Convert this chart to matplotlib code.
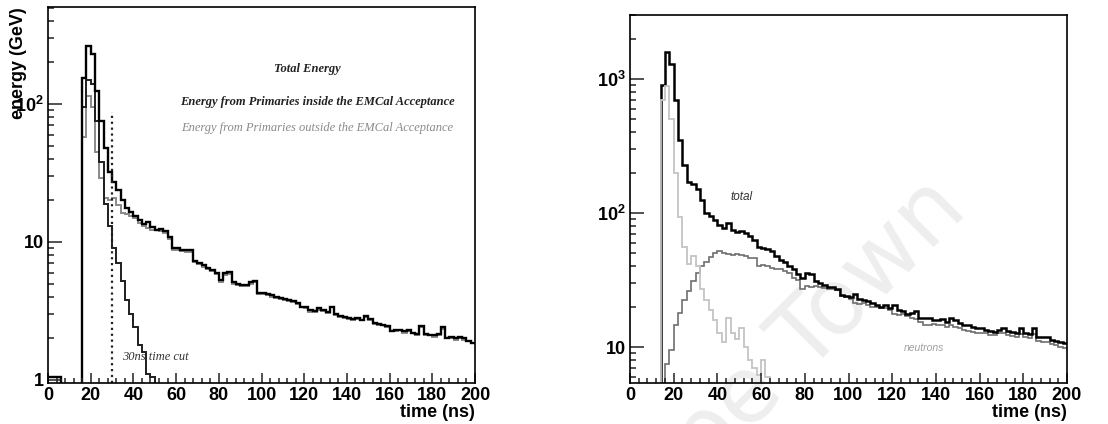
import numpy as np
import matplotlib.pyplot as plt
from matplotlib.ticker import MultipleLocator, LogLocator, NullFormatter

plt.rcParams['font.family'] = ['Liberation Sans', 'DejaVu Sans']
plt.rcParams['font.weight'] = 'bold'
plt.rcParams['axes.labelweight'] = 'bold'
plt.rcParams['mathtext.fontset'] = 'custom'
plt.rcParams['mathtext.bf'] = 'Liberation Sans:bold'
plt.rcParams['mathtext.rm'] = 'Liberation Sans'

# 2 ns bins from 0 to 200 ns
edges = np.arange(0, 202, 2)

# left panel: energy deposited vs time (GeV per bin)
total_left = [
    1.05, 1.05, 1.05, 0, 0, 0, 0, 0, 155, 264,
    230, 125, 75, 48, 32, 27, 24, 20, 17.5, 16.5,
    15.5, 14.5, 13.5, 14.0, 12.8, 12.3, 12.4, 12.0, 10.8, 9.0,
    9.0, 8.8, 8.7, 8.7, 7.3, 7.0, 6.8, 6.5, 6.3, 6.0,
    5.3, 6.0, 6.1, 5.1, 5.0, 4.9, 4.9, 5.1, 5.2, 4.3,
    4.3, 4.2, 4.1, 4.0, 3.9, 3.85, 3.8, 3.75, 3.6, 3.4,
    3.35, 3.2, 3.15, 3.3, 3.2, 3.1, 3.4, 3.0, 2.9, 2.85,
    2.8, 2.75, 2.8, 2.7, 2.9, 2.75, 2.6, 2.55, 2.5, 2.45,
    2.25, 2.3, 2.3, 2.25, 2.3, 2.2, 2.15, 2.45, 2.15, 2.1,
    2.1, 2.15, 2.4, 2.0, 2.05, 2.0, 2.05, 2.0, 1.9, 1.85,
]
inside_left = [
    0, 0, 0, 0, 0, 0, 0, 0, 95, 150,
    140, 75, 38, 19, 13, 9, 7, 5.2, 3.8, 3.0,
    2.4, 1.8, 1.6, 1.1, 1.05, 0.9, 0, 0, 0, 0,
] + [0] * 70
outside_left = [
    0, 0, 0, 0, 0, 0, 0, 0, 58, 115,
    95, 45, 29, 21, 20, 21, 18.5, 16.3, 16, 15.5,
    15, 13.7, 13, 12.6, 12.3, 12.2, 12, 11.6, 10.5, 8.8,
    8.8, 8.6, 8.5, 8.5, 7.1, 6.9, 6.6, 6.4, 6.2, 5.9,
    5.1, 5.8, 5.9, 5.0, 4.85, 4.8, 4.8, 5.0, 5.1, 4.2,
    4.2, 4.1, 4.0, 3.9, 3.85, 3.8, 3.75, 3.7, 3.55, 3.35,
    3.3, 3.1, 3.1, 3.2, 3.15, 3.05, 3.35, 2.95, 2.85, 2.8,
    2.75, 2.7, 2.75, 2.7, 2.85, 2.7, 2.55, 2.5, 2.5, 2.4,
    2.25, 2.25, 2.3, 2.2, 2.25, 2.2, 2.1, 2.4, 2.1, 2.1,
    2.05, 2.1, 2.35, 2.0, 2.0, 1.95, 2.0, 1.95, 1.9, 1.85,
]
cut_time = 30
cut_top = 88

# right panel: total, neutron and prompt contributions
total_right = [
    0, 0, 0, 0, 0, 0, 0, 900, 1580, 1300,
    700, 350, 230, 170, 165, 150, 125, 100, 95, 88,
    82, 77, 84, 75, 72, 73, 71, 67, 63, 56,
    55, 54, 52, 48, 45, 43, 40, 38, 35, 32.5,
    36, 35, 31, 30, 29, 28, 28, 27, 24.5, 24,
    23.5, 25, 23, 22.4, 22, 21.5, 20.5, 20, 20.5, 19.5,
    20.5, 19, 18.5, 17.8, 18, 18.5, 16.6, 16.5, 16.5, 16,
    16, 16.2, 15.5, 16.6, 15.8, 15.2, 14.5, 14.5, 14.2, 13.8,
    13.8, 13.5, 13.2, 13, 13.5, 13.8, 13.2, 13, 12.7, 13.8,
    12.8, 12.5, 13.8, 11.9, 12, 11.8, 11.3, 11.2, 11.0, 10.7,
]
neutrons_right = [
    0, 0, 0, 0, 0, 0, 0, 0, 7.5, 9.5,
    14.5, 18, 22.5, 26, 31, 36, 40, 43, 47, 50,
    52, 50, 49.5, 49, 49.5, 48.5, 48, 46, 46, 40,
    41, 40, 39, 38, 38, 37, 36, 33, 31.5, 27,
    28.5, 28, 28.5, 28, 27.5, 27, 27, 26.5, 24, 23.5,
    23, 21.5, 21, 21.5, 20.5, 20, 20, 19.5, 19.5, 19,
    17.8, 17.5, 17.8, 17, 16.5, 16.2, 15.5, 14.6, 14.6, 14.8,
    14.6, 14.5, 14.2, 14.6, 14.2, 13.8, 13.5, 13.2, 13, 12.8,
    12.7, 12.7, 12.4, 12.3, 12.7, 12.8, 12.3, 12.2, 11.8, 12.5,
    11.9, 11.6, 12.5, 11.2, 11, 11, 10.5, 10.3, 10.1, 9.8,
]
prompt_right = [
    0, 0, 0, 0, 0, 0, 0, 700, 880, 500,
    200, 93, 56, 42, 48, 40, 27, 22.5, 19, 16,
    12.7, 11, 16.5, 12.7, 11.4, 14, 10, 8, 7, 6.2,
    8, 6, 4.5,
] + [0] * 67


def draw_hist(ax, values, color, lw):
    v = np.asarray(values, dtype=float)
    v = np.where(v > 0, v, 1e-3)  # empty bins drop below the axis
    ax.stairs(v, edges, baseline=None, color=color, lw=lw)


def style_axes(ax, ylim, yticks, ylabels):
    ax.set_facecolor('none')
    ax.set_xlim(0, 200)
    ax.set_yscale('log')
    ax.set_ylim(*ylim)
    ax.xaxis.set_major_locator(MultipleLocator(20))
    ax.xaxis.set_minor_locator(MultipleLocator(4))
    ax.set_yticks(yticks, ylabels)
    ax.yaxis.set_minor_locator(LogLocator(base=10, subs=np.arange(2, 10)))
    ax.yaxis.set_minor_formatter(NullFormatter())
    ax.tick_params(which='both', direction='in', top=False, right=False,
                   labelsize=13, width=1.1, color='#222222')
    ax.tick_params(axis='y', which='major', length=10, pad=3)
    ax.tick_params(axis='y', which='minor', length=4.5)
    ax.tick_params(axis='x', which='major', length=7, pad=3)
    ax.tick_params(axis='x', which='minor', length=3.5)
    for sp in ax.spines.values():
        sp.set_linewidth(1.2)
    ax.set_xlabel('time (ns)', loc='right', fontsize=13, fontweight='bold')


fig = plt.figure(figsize=(11.08, 4.24), dpi=100)
ax1 = fig.add_axes([48 / 1108, 41 / 424, 427 / 1108, 376 / 424])
ax2 = fig.add_axes([630 / 1108, 41 / 424, 437 / 1108, 368 / 424])

# left: total energy split by primaries inside/outside the acceptance
draw_hist(ax1, outside_left, '#8a8a8a', 1.4)
draw_hist(ax1, inside_left, '#1e1e1e', 1.4)
draw_hist(ax1, total_left, 'black', 1.7)
ax1.vlines(cut_time, 0.95, cut_top, colors='#222222', linestyles=':', lw=1.6)
style_axes(ax1, (0.95, 505), [1, 10, 100], ['1', '10', r'$\mathbf{10^{2}}$'])
ax1.set_ylabel('energy (GeV)', loc='top', fontsize=13, fontweight='bold')
ax1.yaxis.set_label_coords(-0.05, 1.0)
ax1.xaxis.set_label_coords(1.0, -0.056)

serif = ['Liberation Serif', 'DejaVu Serif']
ax1.text(0.607, 0.835, 'Total Energy', transform=ax1.transAxes, ha='center',
         va='center', family=serif, style='italic', fontweight='bold',
         fontsize=9, color='#222222')
ax1.text(0.63, 0.747, 'Energy from Primaries inside the EMCal Acceptance',
         transform=ax1.transAxes, ha='center', va='center', family=serif,
         style='italic', fontweight='bold', fontsize=9, color='#222222')
ax1.text(0.63, 0.678, 'Energy from Primaries outside the EMCal Acceptance',
         transform=ax1.transAxes, ha='center', va='center', family=serif,
         style='italic', fontweight='normal', fontsize=9, color='#8a8a8a')
ax1.text(0.173, 0.069, '30ns time cut', transform=ax1.transAxes, ha='left',
         va='center', family=serif, style='italic', fontweight='normal',
         fontsize=9, color='#333333')

# right: total energy with neutron and prompt components
draw_hist(ax2, neutrons_right, '#6e6e6e', 1.2)
draw_hist(ax2, total_right, 'black', 1.8)
draw_hist(ax2, prompt_right, '#c4c4c4', 1.3)
style_axes(ax2, (5.4, 3000), [10, 100, 1000],
           ['10', r'$\mathbf{10^{2}}$', r'$\mathbf{10^{3}}$'])
ax2.xaxis.set_label_coords(1.0, -0.057)
ax2.text(0.256, 0.505, 'total', transform=ax2.transAxes, ha='center',
         va='center', style='italic', fontweight='normal', fontsize=8.5,
         color='#333333')
ax2.text(0.673, 0.095, 'neutrons', transform=ax2.transAxes, ha='center',
         va='center', style='italic', fontweight='normal', fontsize=7.5,
         color='#a0a0a0')

fig.text(0.858, 0.545, 'Cape Town', rotation=45, rotation_mode='anchor',
         ha='right', va='center', fontsize=66, fontweight='normal',
         family='DejaVu Sans', color='#eeeeee', zorder=-1)

fig.savefig('out.png', dpi=100)
